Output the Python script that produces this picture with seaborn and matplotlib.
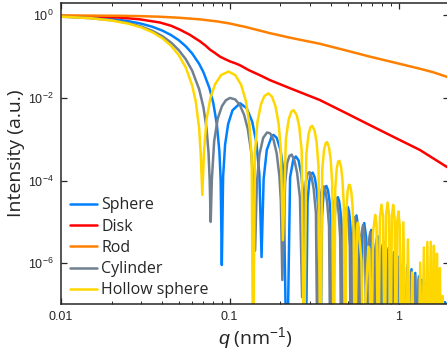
import matplotlib
matplotlib.use('Agg')
import matplotlib.pyplot as plt
import matplotlib.ticker as mticker
import seaborn as sns
import pandas as pd

# Valores: pares (q en nm^-1, intensidad normalizada)
shapes = ['Sphere', 'Disk', 'Rod', 'Cylinder', 'Hollow sphere']
colors = ['#0080FF', '#FF0000', '#FF8000', '#708090', '#FFD700']

sphere = [(0.010, 0.951), (0.015, 0.893), (0.020, 0.816), (0.025, 0.727), (0.030, 0.628),
          (0.035, 0.526), (0.040, 0.427), (0.045, 0.333), (0.050, 0.250), (0.055, 0.178),
          (0.060, 0.1195), (0.066, 0.0670), (0.070, 0.0419), (0.076, 0.0171), (0.080, 0.00758),
          (0.084, 0.00231), (0.087, 4.93e-4), (0.0885, 1.02e-4), (0.0899, 9.0e-7), (0.0915, 1.24e-4),
          (0.094, 7.40e-4), (0.098, 2.34e-3), (0.104, 5.02e-3), (0.1153, 7.42e-3), (0.126, 5.68e-3),
          (0.136, 2.67e-3), (0.144, 8.31e-4), (0.150, 1.40e-4), (0.1545, 1.4e-6), (0.159, 1.10e-4),
          (0.166, 5.53e-4), (0.178, 1.22e-3), (0.1819, 1.27e-3), (0.190, 1.08e-3), (0.200, 5.54e-4),
          (0.208, 1.78e-4), (0.2181, 1e-9), (0.228, 1.20e-4), (0.238, 3.15e-4), (0.2465, 3.83e-4),
          (0.256, 3.06e-4), (0.266, 1.38e-4), (0.274, 3.25e-5), (0.2813, 1e-9),
          (0.2892, 3.01e-5), (0.2958, 9.40e-5), (0.3031, 1.46e-4), (0.3103, 1.55e-4), (0.3189, 1.19e-4),
          (0.3274, 6.27e-5), (0.3366, 1.64e-5), (0.3444, 1e-9),
          (0.3523, 1.37e-5), (0.3591, 4.33e-5), (0.3665, 6.82e-5), (0.3738, 7.37e-5), (0.3822, 5.76e-5),
          (0.3906, 3.09e-5), (0.3996, 8.25e-6), (0.4074, 1e-9),
          (0.4153, 7.07e-6), (0.4223, 2.26e-5), (0.4297, 3.61e-5), (0.4371, 3.95e-5), (0.4454, 3.12e-5),
          (0.4537, 1.70e-5), (0.4625, 4.59e-6), (0.4704, 1e-9),
          (0.4782, 4.02e-6), (0.4853, 1.30e-5), (0.4928, 2.09e-5), (0.5003, 2.30e-5), (0.5086, 1.84e-5),
          (0.5168, 1.01e-5), (0.5255, 2.76e-6), (0.5333, 1e-9),
          (0.5483, 7.96e-6), (0.5634, 1.43e-5), (0.5798, 6.37e-6), (0.5962, 1e-9),
          (0.6113, 5.16e-6), (0.6264, 9.35e-6), (0.6428, 4.22e-6), (0.6591, 1e-9),
          (0.6743, 3.48e-6), (0.6894, 6.37e-6), (0.7057, 2.90e-6), (0.7220, 1e-9),
          (0.7372, 2.44e-6), (0.7524, 4.49e-6), (0.7686, 2.06e-6), (0.7849, 1e-9),
          (0.8001, 1.76e-6), (0.8153, 3.26e-6), (0.8315, 1.51e-6), (0.8477, 1e-9),
          (0.8630, 1.30e-6), (0.8783, 2.42e-6), (0.8944, 1.12e-6), (0.9106, 1e-9),
          (0.9259, 9.8e-7), (0.9412, 1.84e-6), (0.9573, 8.6e-7), (0.9735, 1e-9),
          (0.9888, 7.5e-7), (1.0041, 1.42e-6), (1.0202, 6.6e-7), (1.0363, 1e-9),
          (1.0670, 1.11e-6), (1.0991, 1e-9), (1.1299, 8.83e-7), (1.1620, 1e-9),
          (1.1928, 7.11e-7), (1.2248, 1e-9), (1.2557, 5.79e-7), (1.2877, 1e-9),
          (1.3186, 4.76e-7), (1.3505, 1e-9), (1.3814, 3.95e-7), (1.4133, 1e-9),
          (1.4443, 3.31e-7), (1.4762, 1e-9), (1.5072, 2.79e-7), (1.5390, 1e-9),
          (1.5700, 2.37e-7), (1.6018, 1e-9), (1.6329, 2.03e-7), (1.6646, 1e-9),
          (1.6958, 1.74e-7), (1.7275, 1e-9), (1.7586, 1.51e-7), (1.7903, 1e-9),
          (1.8215, 1.31e-7), (1.8531, 1e-9), (1.8843, 1.14e-7), (1.9160, 1e-9),
          (1.9472, 1.00e-7), (1.9788, 1e-9), (2.0, 7e-8)]

disk = [(0.010, 0.975), (0.0171, 0.935), (0.0225, 0.88), (0.0294, 0.80), (0.0387, 0.67),
        (0.045, 0.56), (0.0508, 0.45), (0.058, 0.34), (0.0667, 0.235), (0.072, 0.185),
        (0.0765, 0.148), (0.082, 0.122), (0.0877, 0.100), (0.094, 0.087), (0.1002, 0.077),
        (0.108, 0.069), (0.115, 0.062), (0.130, 0.047), (0.151, 0.0355), (0.1732, 0.027),
        (0.2275, 0.0172), (0.342, 0.0089), (0.5, 0.0041), (0.676, 0.0022), (1.0, 9.9e-4),
        (1.337, 5.5e-4), (2.0, 1.95e-4)]

rod = [(0.010, 0.99), (0.015, 0.985), (0.0224, 0.975), (0.030, 0.955), (0.0387, 0.925),
       (0.050, 0.875), (0.0667, 0.80), (0.085, 0.71), (0.100, 0.635), (0.125, 0.52),
       (0.1732, 0.37), (0.23, 0.285), (0.342, 0.205), (0.5, 0.138), (0.676, 0.100),
       (1.0, 0.068), (1.337, 0.051), (1.6, 0.042), (2.0, 0.031)]

cylinder = [(0.010, 0.93), (0.015, 0.856), (0.020, 0.762), (0.025, 0.653), (0.030, 0.534),
            (0.035, 0.419), (0.040, 0.312), (0.045, 0.2196), (0.050, 0.144), (0.055, 0.0866),
            (0.060, 0.0459), (0.066, 0.01625), (0.070, 0.0059), (0.073, 1.82e-3), (0.075, 4.75e-4),
            (0.0762, 9.8e-5), (0.07725, 1.0e-5), (0.0785, 1.08e-4), (0.081, 9.0e-4), (0.085, 3.15e-3),
            (0.090, 6.3e-3), (0.095, 8.8e-3), (0.1005, 1.0e-2), (0.108, 9.17e-3), (0.115, 6.71e-3),
            (0.122, 3.83e-3), (0.128, 1.78e-3), (0.134, 5.09e-4), (0.138, 1.0e-4), (0.14144, 2e-6),
            (0.145, 8.8e-5), (0.150, 4.22e-4), (0.158, 1.08e-3), (0.1665, 1.46e-3), (0.174, 1.38e-3),
            (0.182, 9.59e-4), (0.190, 4.50e-4), (0.197, 1.29e-4), (0.201, 3.2e-5), (0.20511, 3.9e-7),
            (0.2130, 8.65e-5), (0.2191, 2.65e-4), (0.2261, 3.95e-4), (0.2330, 4.25e-4), (0.2419, 3.04e-4),
            (0.2508, 1.54e-4), (0.2607, 3.85e-5), (0.2686, 1.5e-7),
            (0.2765, 3.05e-5), (0.2828, 9.54e-5), (0.2899, 1.475e-4), (0.2970, 1.60e-4), (0.3058, 1.19e-4),
            (0.3145, 6.23e-5), (0.3242, 1.61e-5), (0.3321, 1e-9),
            (0.3400, 1.33e-5), (0.3460, 4.25e-5), (0.3530, 6.71e-5), (0.3600, 7.26e-5), (0.3689, 5.63e-5),
            (0.3777, 3.00e-5), (0.3876, 7.89e-6), (0.3955, 1e-9),
            (0.4034, 6.73e-6), (0.4106, 2.15e-5), (0.4182, 3.41e-5), (0.4258, 3.71e-5), (0.4341, 2.94e-5),
            (0.4423, 1.59e-5), (0.4510, 4.31e-6), (0.4589, 1e-9),
            (0.4668, 3.75e-6), (0.4741, 1.21e-5), (0.4817, 1.94e-5), (0.4893, 2.13e-5), (0.4976, 1.70e-5),
            (0.5058, 9.32e-6), (0.5144, 2.54e-6), (0.5223, 1e-9),
            (0.5375, 7.31e-6), (0.5528, 1.31e-5), (0.5692, 5.81e-6), (0.5856, 1e-9),
            (0.6010, 4.68e-6), (0.6163, 8.46e-6), (0.6327, 3.81e-6), (0.6490, 1e-9),
            (0.6644, 3.13e-6), (0.6798, 5.71e-6), (0.6961, 2.60e-6), (0.7124, 1e-9),
            (0.7278, 2.17e-6), (0.7432, 4.00e-6), (0.7595, 1.83e-6), (0.7757, 1e-9),
            (0.7912, 1.56e-6), (0.8066, 2.88e-6), (0.8228, 1.33e-6), (0.8391, 1e-9),
            (0.8545, 1.14e-6), (0.8700, 2.13e-6), (0.8862, 9.9e-7), (0.9024, 1e-9),
            (0.9179, 8.6e-7), (0.9334, 1.61e-6), (0.9496, 7.5e-7), (0.9658, 1e-9),
            (0.9813, 6.6e-7), (0.9968, 1.24e-6), (1.0130, 5.8e-7), (1.0291, 1e-9),
            (1.0602, 9.66e-7), (1.0925, 1e-9), (1.1236, 7.66e-7), (1.1558, 1e-9),
            (1.1870, 6.15e-7), (1.2191, 1e-9), (1.2503, 4.99e-7), (1.2825, 1e-9),
            (1.3137, 4.10e-7), (1.3458, 1e-9), (1.3771, 3.39e-7), (1.4092, 1e-9),
            (1.4404, 2.83e-7), (1.4725, 1e-9), (1.5038, 2.39e-7), (1.5359, 1e-9),
            (1.5672, 2.02e-7), (1.5992, 1e-9), (1.6305, 1.73e-7), (1.6626, 1e-9),
            (1.6939, 1.48e-7), (1.7259, 1e-9), (1.7572, 1.28e-7), (1.7892, 1e-9),
            (1.8206, 1.11e-7), (1.8526, 1e-9), (1.8840, 9.7e-8), (1.9159, 1e-9),
            (1.9473, 8.5e-8), (1.9793, 1e-9), (2.0, 6e-8)]

hollow = [(0.010, 0.932), (0.015, 0.852), (0.020, 0.749), (0.025, 0.632), (0.030, 0.509),
          (0.035, 0.388), (0.040, 0.278), (0.045, 0.1835), (0.050, 0.1085), (0.055, 0.0543),
          (0.060, 0.0202), (0.063, 0.00826), (0.066, 1.84e-3), (0.0675, 4.10e-4), (0.0689, 4.5e-5),
          (0.0705, 4.97e-4), (0.073, 3.00e-3), (0.077, 1.01e-2), (0.082, 2.15e-2), (0.089, 3.58e-2),
          (0.0985, 4.35e-2), (0.108, 3.57e-2), (0.117, 2.07e-2), (0.125, 8.18e-3), (0.131, 2.24e-3),
          (0.135, 3.63e-4), (0.1378, 1e-9), (0.141, 4.36e-4), (0.146, 2.56e-3), (0.153, 6.87e-3),
          (0.1605, 1.11e-2), (0.1694, 1.29e-2), (0.178, 1.08e-2), (0.187, 6.21e-3), (0.195, 2.36e-3),
          (0.201, 5.52e-4), (0.2067, 3.6e-6),
          (0.2153, 1.02e-3), (0.2239, 3.10e-3), (0.2325, 4.74e-3), (0.2391, 5.05e-3), (0.2497, 3.80e-3),
          (0.2584, 1.99e-3), (0.2670, 5.24e-4), (0.2756, 1e-9),
          (0.2842, 4.22e-4), (0.2928, 1.29e-3), (0.3014, 1.98e-3), (0.3085, 2.11e-3), (0.3186, 1.59e-3),
          (0.3273, 8.35e-4), (0.3359, 2.19e-4), (0.3445, 1e-9),
          (0.3531, 1.75e-4), (0.3617, 5.31e-4), (0.3703, 8.06e-4), (0.3777, 8.51e-4), (0.3875, 6.35e-4),
          (0.3962, 3.29e-4), (0.4048, 8.48e-5), (0.4134, 1e-9),
          (0.4220, 6.54e-5), (0.4306, 1.96e-4), (0.4392, 2.91e-4), (0.4467, 2.99e-4), (0.4564, 2.17e-4),
          (0.4650, 1.09e-4), (0.4737, 2.74e-5), (0.4823, 1e-9),
          (0.4909, 1.96e-5), (0.4995, 5.55e-5), (0.5081, 7.87e-5), (0.5158, 7.69e-5), (0.5253, 5.25e-5),
          (0.5339, 2.45e-5), (0.5426, 5.63e-6), (0.5512, 1e-9),
          (0.5684, 8.05e-6), (0.5750, 9.6e-6), (0.6028, 1.17e-6), (0.6201, 1e-9),
          (0.6373, 1.2e-7), (0.6620, 2.5e-6), (0.6717, 2.19e-6), (0.6890, 1e-9),
          (0.7062, 5.56e-6), (0.7270, 1.47e-5), (0.7406, 8.99e-6), (0.7579, 1e-9),
          (0.7751, 1.20e-5), (0.7917, 2.60e-5), (0.8095, 1.38e-5), (0.8267, 1e-9),
          (0.8440, 1.47e-5), (0.8606, 2.94e-5), (0.8784, 1.46e-5), (0.8956, 1e-9),
          (0.9129, 1.36e-5), (0.9295, 2.56e-5), (0.9473, 1.19e-5), (0.9645, 1e-9),
          (0.9818, 9.96e-6), (0.9985, 1.78e-5), (1.0162, 7.84e-6), (1.0334, 1e-9),
          (1.0674, 9.78e-6), (1.1023, 1e-9), (1.1363, 3.77e-6), (1.1712, 1e-9),
          (1.2052, 5.9e-7), (1.2401, 1e-9), (1.2741, 5.6e-8), (1.3090, 1e-9),
          (1.3430, 1.03e-6), (1.3779, 1e-9), (1.4119, 2.40e-6), (1.4468, 1e-9),
          (1.4808, 3.25e-6), (1.5157, 1e-9), (1.5497, 3.29e-6), (1.5846, 1e-9),
          (1.6186, 2.64e-6), (1.6535, 1e-9), (1.6875, 1.69e-6), (1.7224, 1e-9),
          (1.7564, 7.6e-7), (1.7913, 1e-9), (1.8252, 1.6e-7), (1.8602, 1e-9),
          (1.8941, 4e-9), (1.9291, 1e-9), (2.0, 1e-9)]

frames = []
for name, pts in zip(shapes, [sphere, disk, rod, cylinder, hollow]):
    d = pd.DataFrame(pts, columns=['q', 'I'])
    d['shape'] = name
    frames.append(d)
df = pd.concat(frames, ignore_index=True)

sns.set_style('ticks')
plt.rcParams['font.family'] = ['Liberation Sans', 'DejaVu Sans']
plt.rcParams['mathtext.fontset'] = 'custom'
plt.rcParams['mathtext.rm'] = 'Liberation Sans'
plt.rcParams['mathtext.it'] = 'Liberation Sans:italic'
plt.rcParams['xtick.direction'] = 'in'
plt.rcParams['ytick.direction'] = 'in'
plt.rcParams['xtick.top'] = True
plt.rcParams['ytick.right'] = True

fig = plt.figure(figsize=(4.47, 3.55), dpi=100)
ax = fig.add_axes([0.1358, 0.1425, 0.8696, 0.8493])

sns.lineplot(data=df, x='q', y='I', hue='shape', hue_order=shapes,
             palette=colors, linewidth=1.8, sort=False, estimator=None, ax=ax)

ax.set_xscale('log')
ax.set_yscale('log')
ax.set_xlim(0.01, 2)
ax.set_ylim(1e-7, 2)

ax.xaxis.set_major_locator(mticker.FixedLocator([0.01, 0.1, 1]))
ax.xaxis.set_major_formatter(mticker.FixedFormatter(['0.01', '0.1', '1']))
ax.xaxis.set_minor_locator(mticker.LogLocator(base=10, subs=range(2, 10)))
ax.xaxis.set_minor_formatter(mticker.NullFormatter())
ax.yaxis.set_major_locator(mticker.FixedLocator([1e-6, 1e-4, 1e-2, 1]))
ax.yaxis.set_major_formatter(mticker.FixedFormatter([r'$10^{-6}$', r'$10^{-4}$', r'$10^{-2}$', r'$10^{0}$']))
ax.yaxis.set_minor_locator(mticker.NullLocator())
ax.tick_params(which='major', length=4, width=0.9, labelsize=9, pad=5)
ax.tick_params(which='minor', length=2, width=0.7)
for s in ax.spines.values():
    s.set_linewidth(1.1)

ax.set_xlabel(r'$\mathit{q}$ (nm$^{-1}$)', fontsize=14, family='Open Sans', labelpad=1)
ax.set_ylabel('Intensity (a.u.)', fontsize=14, family='Open Sans', labelpad=2)

sns.move_legend(ax, 'lower left', bbox_to_anchor=(0.024, 0.02), title=None,
                frameon=False, prop={'family': 'Open Sans', 'size': 11.5},
                handlelength=1.7, handletextpad=0.25, labelspacing=0.33,
                borderaxespad=0, borderpad=0)

fig.savefig('out.png', dpi=100)
